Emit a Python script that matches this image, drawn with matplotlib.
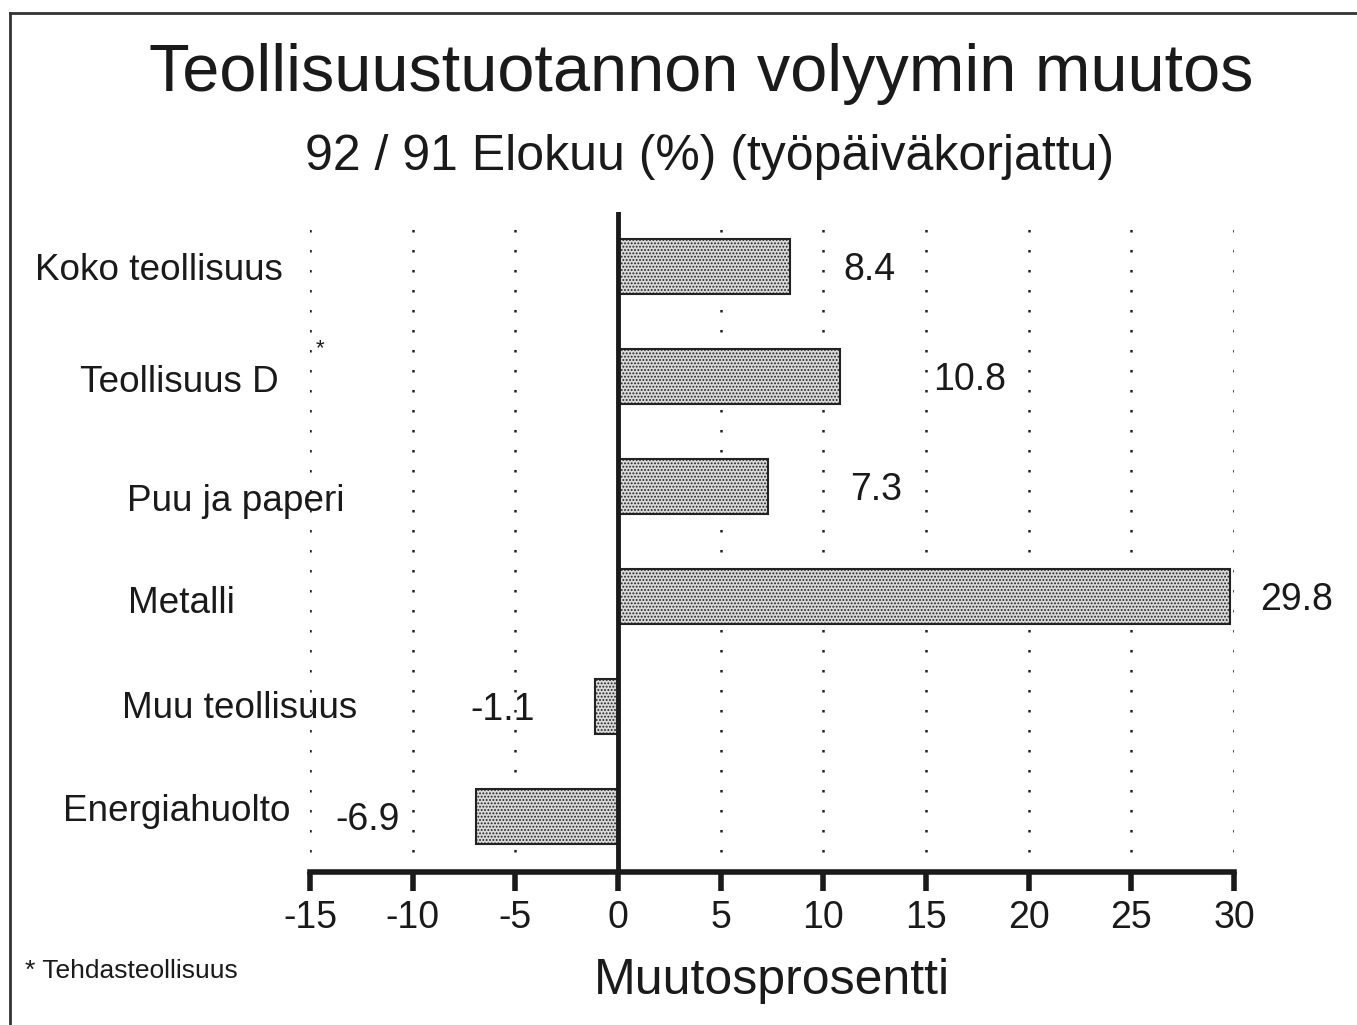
import matplotlib
matplotlib.use("Agg")
import matplotlib.pyplot as plt
from matplotlib.lines import Line2D

plt.rcParams['font.family'] = ['Liberation Sans', 'DejaVu Sans']
plt.rcParams['hatch.linewidth'] = 0.9

# ---- data ----
categories = ["Koko teollisuus", "Teollisuus D", "Puu ja paperi", "Metalli",
              "Muu teollisuus", "Energiahuolto"]
values = [8.4, 10.8, 7.3, 29.8, -1.1, -6.9]
value_labels = ["8.4", "10.8", "7.3", "29.8", "-1.1", "-6.9"]
xticks = [-15, -10, -5, 0, 5, 10, 15, 20, 25, 30]
xtick_labels = ["-15", "-10", "-5", "0", "5", "10", "15", "20", "25", "30"]

title = "Teollisuustuotannon volyymin muutos"
subtitle = "92 / 91 Elokuu (%) (työpäiväkorjattu)"
xlabel = "Muutosprosentti"
footnote = "* Tehdasteollisuus"

# ---- layout (label placement) ----
cat_label_left = [0.026, 0.059, 0.0936, 0.0943, 0.090, 0.0464]   # figure fraction
cat_label_dy = [0.035, 0.05, 0.13, 0.06, 0.01, -0.05]             # data units
val_label_x = [10.96, 15.34, 11.30, 31.27, -4.04, -10.62]         # data units
val_label_ha = ["left", "left", "left", "left", "right", "right"]

fig = plt.figure(figsize=(13.57, 10.25), dpi=100)
ax = fig.add_axes([0.2284, 0.1493, 0.681, 0.6439])

ypos = list(range(len(categories)))
ax.barh(ypos, values, height=0.5, color="#d9d9d9", edgecolor="#222222",
        linewidth=1.5, hatch=".....", zorder=3)

ax.set_xlim(-15, 30)
ax.set_ylim(len(categories) - 0.5, -0.5)

# dotted grid
for t in xticks:
    if t != 0:
        ax.axvline(t, color="#222222", linestyle=(0, (1, 7)), linewidth=1.8, zorder=1)
ax.axvline(0, color="#1a1a1a", linewidth=3.5, zorder=4)

for s in ["top", "right", "left"]:
    ax.spines[s].set_visible(False)
ax.spines["bottom"].set_linewidth(4)
ax.spines["bottom"].set_color("#1a1a1a")
ax.set_yticks([])
ax.set_xticks(xticks)
ax.set_xticklabels(xtick_labels)
ax.tick_params(axis="x", direction="out", length=14, width=4, color="#1a1a1a",
               labelsize=27, pad=6, labelcolor="#1a1a1a")
ax.set_xlabel(xlabel, fontsize=36, color="#1a1a1a", labelpad=16)

# category labels
for i, c in enumerate(categories):
    ax.text(cat_label_left[i], i + cat_label_dy[i], c, fontsize=26.6,
            color="#1a1a1a", ha="left", va="center",
            transform=matplotlib.transforms.blended_transform_factory(fig.transFigure, ax.transData),
            clip_on=False)

# value labels
for i, lab in enumerate(value_labels):
    ax.text(val_label_x[i], i + 0.03, lab, fontsize=27, color="#1a1a1a",
            ha=val_label_ha[i], va="center", clip_on=False, zorder=5)

fig.text(0.517, 0.928, title, fontsize=48, ha="center", va="center", color="#1a1a1a")
fig.text(0.523, 0.847, subtitle, fontsize=36, ha="center", va="center", color="#1a1a1a")
fig.text(0.0184, 0.053, footnote, fontsize=19, ha="left", va="center", color="#1a1a1a")
fig.text(0.2358, 0.660, "*", fontsize=16, ha="center", va="center", color="#1a1a1a")

# frame lines (top and left)
fig.add_artist(Line2D([0.0074, 1.0], [0.987, 0.987], transform=fig.transFigure,
                      color="#333333", linewidth=2))
fig.add_artist(Line2D([0.0074, 0.0074], [0.0, 0.987], transform=fig.transFigure,
                      color="#333333", linewidth=2))

fig.savefig("out.png", dpi=100, facecolor="white")
